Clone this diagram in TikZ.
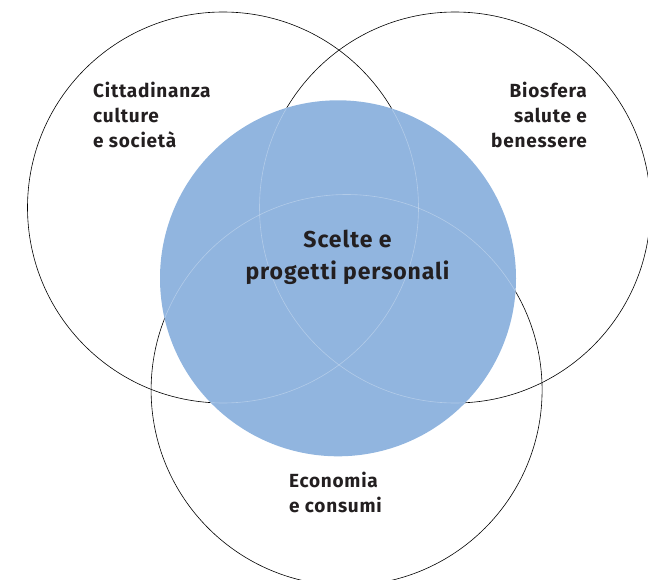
\documentclass[tikz,border=0pt]{standalone}
\usepackage{fontspec}
\setmainfont{Fira Sans}
\newfontfamily\lblfont[LetterSpace=4]{Fira Sans}
\definecolor{bluefill}{HTML}{91B5DF}
\definecolor{txt}{HTML}{231F20}
\begin{document}
\begin{tikzpicture}[x=1pt,y=-1pt,
  ring/.style={draw=black,line width=0.6pt},
  faint/.style={draw=white,draw opacity=0.3,line width=0.6pt},
  lbl/.style={font=\lblfont\fontsize{19}{25}\selectfont\bfseries,text=txt,inner sep=0pt},
  clbl/.style={font=\lblfont\fontsize{23}{32}\selectfont\bfseries,text=txt,inner sep=0pt,align=center}]
\useasboundingbox (0,0) rectangle (648,580);
\coordinate (L) at (223,207.5);
\coordinate (R) at (455,207.5);
\coordinate (B) at (346.6,390);
\coordinate (C) at (338,278.3);
\draw[ring] (L) circle[radius=195.5];
\draw[ring] (R) circle[radius=195.5];
\draw[ring] (B) circle[radius=195.5];
\fill[bluefill] (C) circle[radius=178];
\begin{scope}
\clip (C) circle[radius=178];
\draw[faint] (L) circle[radius=195.5];
\draw[faint] (R) circle[radius=195.5];
\draw[faint] (B) circle[radius=195.5];
\end{scope}
\node[lbl,align=left,anchor=base west] (cit) at (93,148) {Cittadinanza\\culture\\e società};
\node[lbl,align=right,anchor=base east] (bio) at (587,148) {Biosfera\\salute e\\benessere};
\node[lbl,align=left,anchor=base west] (eco) at (289,512) {Economia\\e consumi};
\node[clbl,anchor=base] (sce) at (347.5,279.3) {Scelte e\\progetti personali};
\end{tikzpicture}
\end{document}
